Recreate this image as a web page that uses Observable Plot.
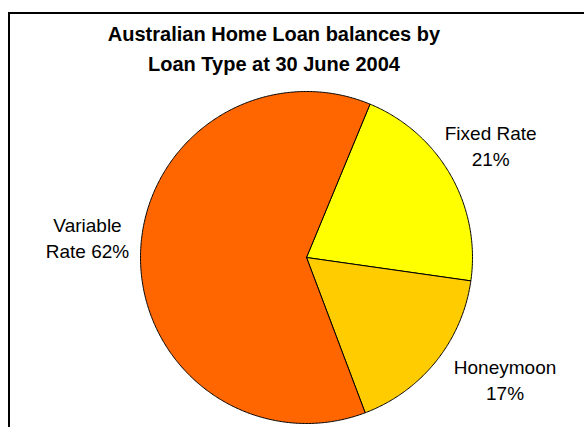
<!DOCTYPE html>
<html>
<head>
<meta charset="utf-8">
<script src="https://cdn.jsdelivr.net/npm/d3@7"></script>
<script src="https://cdn.jsdelivr.net/npm/@observablehq/plot@0.6"></script>
<style>
  html, body { margin: 0; padding: 0; background: #fff; overflow: hidden; }
  #wrap { position: relative; width: 584px; height: 427px; overflow: hidden; background: #fff; }
  #frame { position: absolute; left: 8px; top: 12px; width: 700px; height: 600px;
           border-left: 2px solid #000; border-top: 2px solid #000; box-sizing: border-box; }
  #title { position: absolute; left: 0; top: 19px; width: 548px; text-align: center;
           font-family: "Liberation Sans", Arial, sans-serif; font-weight: bold;
           font-size: 20px; line-height: 30px; color: #000; }
  #chart { position: absolute; left: 0; top: 0; }
  #chart svg { background: transparent !important; }
</style>
</head>
<body>
<div id="wrap">
  <div id="frame"></div>
  <div id="chart"></div>
  <div id="title">Australian Home Loan balances by<br>Loan Type at 30 June 2004</div>
</div>
<script>
// ---- data ----
const categories = ["Fixed Rate", "Honeymoon", "Variable Rate"];
const values = [21, 17, 62];
const labelLines = [["Fixed Rate", "21%"], ["Honeymoon", "17%"], ["Variable", "Rate 62%"]];
const colors = ["#FFFF00", "#FFCC00", "#FF6600"];

// ---- layout / style ----
const W = 584, H = 427;
const cx = 306, cy = 257, R = 166;      // pixel centre & radius
const startDeg = 22.5;                    // clockwise from 12 o'clock
const labelOffsets = [[40, -31], [69, 17], [-53, -18]];  // px from rim at mid-angle
const fontFamily = '"Liberation Sans", Arial, sans-serif';

// build slice polygons in unit coordinates (y up)
const total = d3.sum(values);
const polys = [];
const mids = [];
let a0 = startDeg;
categories.forEach((c, i) => {
  const span = values[i] / total * 360;
  const a1 = a0 + span;
  polys.push({name: c, x: 0, y: 0});
  const steps = Math.max(2, Math.ceil(span * 2));
  for (let k = 0; k <= steps; k++) {
    const a = (a0 + span * k / steps) * Math.PI / 180;
    polys.push({name: c, x: Math.sin(a), y: Math.cos(a)});
  }
  polys.push({name: c, x: 0, y: 0});
  mids.push((a0 + a1) / 2);
  a0 = a1;
});

const xDomain = [-cx / R, (W - cx) / R];
const yDomain = [-(H - cy) / R, cy / R];

const marks = [
  Plot.line(polys, {x: "x", y: "y", z: "name", fill: "name", stroke: "#000",
                    strokeWidth: 1, strokeLinejoin: "miter", curve: "linear"})
];
categories.forEach((c, i) => {
  const a = mids[i] * Math.PI / 180;
  marks.push(Plot.text([{x: Math.sin(a), y: Math.cos(a), t: labelLines[i].join("\n")}], {
    x: "x", y: "y", text: "t",
    dx: labelOffsets[i][0], dy: labelOffsets[i][1],
    textAnchor: "middle", lineAnchor: "middle", lineHeight: 26 / 19,
    fontSize: 19, fill: "#000", fontFamily
  }));
});

const chart = Plot.plot({
  width: W, height: H,
  marginTop: 0, marginRight: 0, marginBottom: 0, marginLeft: 0,
  x: {domain: xDomain, axis: null},
  y: {domain: yDomain, axis: null},
  color: {domain: categories, range: colors},
  style: {background: "transparent", fontFamily},
  marks
});
document.getElementById("chart").appendChild(chart);
</script>
</body>
</html>
